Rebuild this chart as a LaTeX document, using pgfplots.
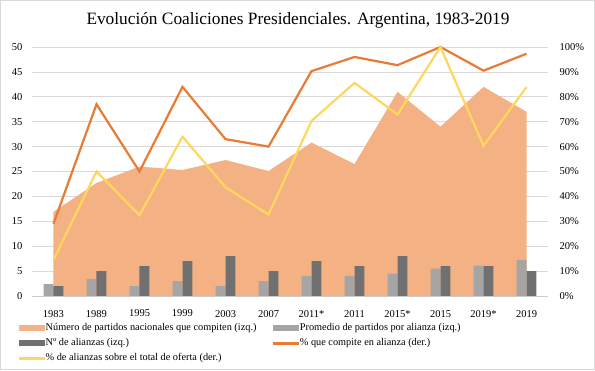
\documentclass[border=0pt]{standalone}
\usepackage{pgfplots}
\pgfplotsset{compat=1.18}
\usepackage{pgfplotstable}
\usepackage{fontspec}
\setmainfont{Liberation Serif}
\definecolor{areaC}{HTML}{F4B183}
\definecolor{lgray}{HTML}{A5A5A5}
\definecolor{dgray}{HTML}{707070}
\definecolor{lineO}{HTML}{E97B35}
\definecolor{lineY}{HTML}{FFD75E}
\pgfplotstableread{
x num prom nal comp ofe
0 16.9 2.4 2 29 14.5
1 22.7 3.4 5 77 50
2 26 2 6 50 32.4
3 25.3 3 7 84 64
4 27.3 2 8 63 43.7
5 25.1 3 5 60 32.7
6 30.8 4 7 90.3 70.3
7 26.5 4 6 96 85.6
8 41 4.5 8 92.7 72.9
9 34 5.5 6 100 100
10 42 6.1 6 90.5 60.3
11 37 7.2 5 97.3 83.9
}\data
\begin{document}
\begin{tikzpicture}[font=\fontsize{10.5}{12}\selectfont]
\useasboundingbox (-32pt,-74pt) rectangle (563pt,296pt);
\draw[black!15, line width=1pt] (-31.5pt,-73.5pt) rectangle (562.5pt,295.5pt);
\node[font=\fontsize{17.3}{19}\selectfont] at (266pt,276pt) {Evolución Coaliciones Presidenciales. Argentina, 1983-2019};
\begin{axis}[at={(0pt,0pt)}, anchor=south west, scale only axis,
  width=516pt, height=249pt,
  xmin=-0.5, xmax=11.5, ymin=0, ymax=50,
  ytick={0,5,...,50},
  xtick={0,...,11},
  xticklabels={1983,1989,1995,1999,2003,2007,2011*,2011,2015*,2015,2019*,2019},
  axis line style={draw=none},
  major tick length=0pt,
  ymajorgrids, grid style={black!15, line width=0.8pt},
  yticklabel style={/pgf/number format/assume math mode=true, xshift=-6pt},
  xticklabel style={yshift=-10.5pt},
  clip=false]
\addplot[fill=areaC, draw=none] table[x=x,y=num]{\data} \closedcycle;
\addplot[ybar, bar width=0.23, bar shift=-0.115, fill=lgray, draw=none] table[x=x,y=prom]{\data};
\addplot[ybar, bar width=0.23, bar shift=0.115, fill=dgray, draw=none] table[x=x,y=nal]{\data};
\draw[black!20, line width=0.8pt] (axis cs:-0.5,0) -- (axis cs:11.5,0);
\end{axis}
\begin{axis}[at={(0pt,0pt)}, anchor=south west, scale only axis,
  width=516pt, height=249pt,
  xmin=-0.5, xmax=11.5, ymin=0, ymax=100,
  axis y line*=right, axis x line=none,
  axis line style={draw=none},
  major tick length=0pt,
  ytick={0,10,...,100},
  yticklabels={0\%,10\%,20\%,30\%,40\%,50\%,60\%,70\%,80\%,90\%,100\%},
  yticklabel style={xshift=8pt},
  legend columns=2,
  legend cell align=left,
  legend style={at={(-0.025,-0.105)}, anchor=north west, draw=none, fill=none,
    inner sep=0pt, row sep=4.5pt,
    font=\fontsize{10.3}{11}\selectfont,
    nodes={inner sep=1pt},
    /tikz/every even column/.append style={column sep=16pt}},
  clip=false]
\addlegendimage{legend image code/.code={\fill[areaC] (0pt,-2.5pt) rectangle (25pt,2.5pt);}}
\addlegendentry{Número de partidos nacionales que compiten (izq.)}
\addlegendimage{legend image code/.code={\fill[lgray] (0pt,-2.5pt) rectangle (25pt,2.5pt);}}
\addlegendentry{Promedio de partidos por alianza (izq.)}
\addlegendimage{legend image code/.code={\fill[dgray] (0pt,-2.5pt) rectangle (25pt,2.5pt);}}
\addlegendentry{Nº de alianzas (izq.)}
\addlegendimage{legend image code/.code={\fill[lineO] (0pt,-1pt) rectangle (25pt,1pt);}}
\addlegendentry{\% que compite en alianza (der.)}
\addlegendimage{legend image code/.code={\fill[lineY] (0pt,-1pt) rectangle (25pt,1pt);}}
\addlegendentry{\% de alianzas sobre el total de oferta (der.)}
\addplot[lineO, line width=2.2pt, forget plot] table[x=x,y=comp]{\data};
\addplot[lineY, line width=2.2pt, forget plot] table[x=x,y=ofe]{\data};
\end{axis}
\end{tikzpicture}
\end{document}
